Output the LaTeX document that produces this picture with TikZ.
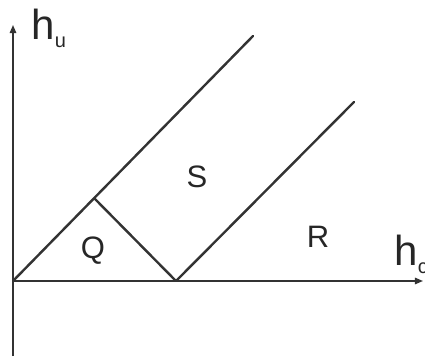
\documentclass[tikz,border=0pt]{standalone}
\usepackage{fontspec}
\setmainfont{Liberation Sans}
\usetikzlibrary{arrows.meta, positioning}

\newcommand{\axlbl}[2]{\fontsize{21}{21}\selectfont #1\raisebox{-4pt}{\fontsize{10}{10}\selectfont #2}}

\begin{document}
\begin{tikzpicture}[
        x=0.5pt, y=-0.5pt,
        axis/.style={draw=black!80, line width=0.8pt, -{Triangle[length=4pt, width=3.2pt]}},
        bound/.style={draw=black!80, line width=1.2pt, line cap=round},
        region/.style={font=\fontsize{15.5}{15.5}\selectfont, text=black!85, inner sep=0pt},
        axlabel/.style={anchor=base west, inner sep=0pt, text=black!85}
      ]
        \useasboundingbox (0,0) rectangle (425,359);
        % Axes
        \coordinate (O) at (13,281);
        \coordinate (yBot) at (13,356);
        \coordinate (yTop) at (13,25);
        \coordinate (xEnd) at (423,281);
        \draw[axis] (yBot) -- (yTop);
        \draw[axis] (O) -- (xEnd);
        % Boundary lines
        \coordinate (A) at (253,36);
        \coordinate (P) at (176,281);
        \coordinate (B) at (354,102);
        \coordinate (M) at (95,199);
        \draw[bound] (O) -- (A);
        \draw[bound] (P) -- (B);
        \draw[bound] (M) -- (P);
        % Region labels
        \node[region] (Q) at (93,251) {Q};
        \node[region] (S) at (197,177) {S};
        \node[region] (R) at (318,237) {R};
        % Axis labels
        \node[axlabel] (hu) at (31,39) {\axlbl{h}{u}};
        \node[axlabel] (hc) at (394,265) {\axlbl{h}{c}};
      \end{tikzpicture}
\end{document}
